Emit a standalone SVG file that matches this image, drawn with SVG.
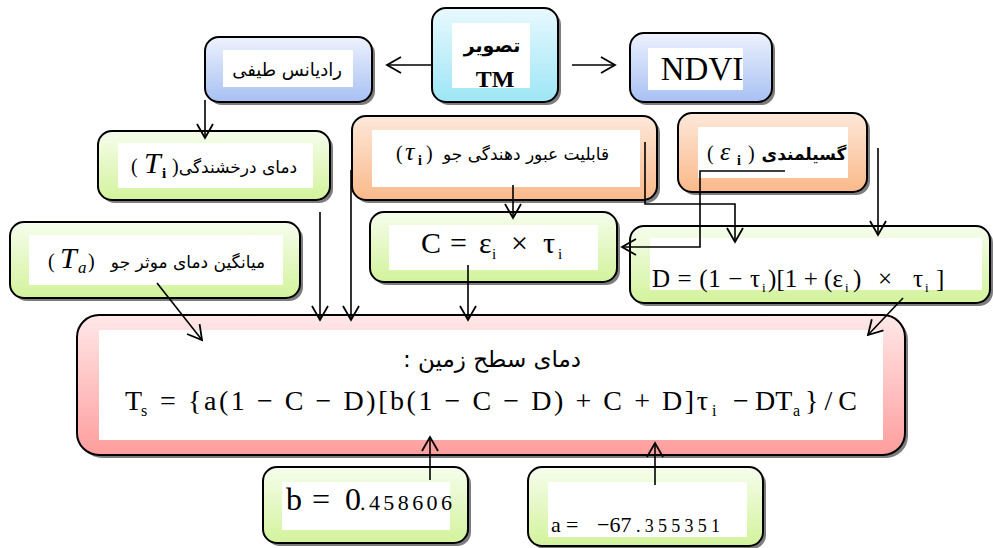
<svg xmlns="http://www.w3.org/2000/svg" width="993" height="548" viewBox="0 0 993 548">
<style>
.box{stroke:#000;stroke-width:2}
.sh{fill:#7d7d7d}
.in{fill:#fff}
.fa{font-family:"DejaVu Sans",sans-serif;fill:#000}
.m{font-family:"Liberation Serif",serif;fill:#000}
.it{font-style:italic}
.conn{fill:none;stroke:#000;stroke-width:1.6}
</style>
<defs>
<linearGradient id="gGreen" x1="0" y1="0" x2="0" y2="1"><stop offset="0" stop-color="#f6fded"/><stop offset="1" stop-color="#d3f39b"/></linearGradient>
<linearGradient id="gOrange" x1="0" y1="0" x2="0" y2="1"><stop offset="0" stop-color="#fde8d9"/><stop offset="1" stop-color="#fab98a"/></linearGradient>
<linearGradient id="gBlue" x1="0" y1="0" x2="0" y2="1"><stop offset="0" stop-color="#edf2fd"/><stop offset="1" stop-color="#a7c0f3"/></linearGradient>
<linearGradient id="gCyan" x1="0" y1="0" x2="0" y2="1"><stop offset="0" stop-color="#e8f9fe"/><stop offset="1" stop-color="#9de6f6"/></linearGradient>
<linearGradient id="gPink" x1="0" y1="0" x2="0" y2="1"><stop offset="0" stop-color="#ffe8e8"/><stop offset="1" stop-color="#ff9d9d"/></linearGradient>
<marker id="arr" markerUnits="userSpaceOnUse" markerWidth="18" markerHeight="20" refX="16" refY="10" orient="auto">
<path d="M2,2 L16,10 L2,18" fill="none" stroke="#000" stroke-width="1.8"/>
</marker>
</defs>

<g id="node-tm">
<rect class="sh" x="435" y="11" width="126" height="94" rx="14"/>
<rect class="box" x="432" y="8" width="126" height="94" rx="14" fill="url(#gCyan)"/>
<rect class="in" x="452" y="23" width="78" height="65"/>
<text class="fa" x="492" y="52" font-size="19" font-weight="bold" text-anchor="middle" direction="rtl">تصویر</text>
<text class="m" x="495" y="87" font-size="24" font-weight="bold" text-anchor="middle">TM</text>
</g>

<g id="node-radiance">
<rect class="sh" x="208" y="40" width="167" height="65" rx="14"/>
<rect class="box" x="205" y="37" width="167" height="65" rx="14" fill="url(#gBlue)"/>
<rect class="in" x="223" y="50" width="130" height="37"/>
<text class="fa" x="287" y="76" font-size="18" text-anchor="middle" direction="rtl">رادیانس طیفی</text>
</g>

<g id="node-ndvi">
<rect class="sh" x="633" y="36" width="142" height="69" rx="14"/>
<rect class="box" x="630" y="33" width="142" height="69" rx="14" fill="url(#gBlue)"/>
<rect class="in" x="648" y="48" width="95" height="42"/>
<text class="m" x="702" y="80" font-size="33" text-anchor="middle">NDVI</text>
</g>

<g id="node-ti">
<rect class="sh" x="101" y="134" width="232" height="69" rx="14"/>
<rect class="box" x="98" y="131" width="232" height="69" rx="14" fill="url(#gGreen)"/>
<rect class="in" x="118" y="143" width="195" height="45"/>
<text class="fa" x="238" y="173" font-size="17" text-anchor="middle" direction="rtl">دمای درخشندگی</text>
<text class="m" x="131" y="173" font-size="20">(</text>
<text class="m it" x="144" y="173" font-size="30">T</text>
<text class="m" x="162" y="178" font-size="15" font-weight="bold" fill="#1a2a6a">i</text>
<text class="m" x="172" y="173" font-size="20">)</text>
</g>

<g id="node-tau">
<rect class="sh" x="355" y="119" width="305" height="84" rx="14"/>
<rect class="box" x="352" y="116" width="305" height="84" rx="14" fill="url(#gOrange)"/>
<rect class="in" x="372" y="130" width="268" height="57"/>
<text class="fa" x="526" y="160" font-size="17" text-anchor="middle" direction="rtl">قابلیت عبور دهندگی جو</text>
<text class="m" x="396" y="160" font-size="20">(</text>
<text class="m it" x="405" y="160" font-size="26">τ</text>
<text class="m" x="418" y="165" font-size="14" font-weight="bold" fill="#1a2a6a">i</text>
<text class="m" x="426" y="160" font-size="20">)</text>
</g>

<g id="node-eps">
<rect class="sh" x="681" y="116" width="189" height="79" rx="14"/>
<rect class="box" x="678" y="113" width="189" height="79" rx="14" fill="url(#gOrange)"/>
<rect class="in" x="698" y="127" width="150" height="51"/>
<text class="fa" x="804" y="160" font-size="17" font-weight="bold" text-anchor="middle" direction="rtl">گسیلمندی</text>
<text class="m" x="707" y="160" font-size="20">(</text>
<text class="m it" x="720" y="160" font-size="26">ε</text>
<text class="m" x="737" y="165" font-size="14" font-weight="bold" fill="#1a2a6a">i</text>
<text class="m" x="748" y="160" font-size="20">)</text>
</g>

<g id="node-ta">
<rect class="sh" x="13" y="225" width="290" height="76" rx="14"/>
<rect class="box" x="10" y="222" width="290" height="76" rx="14" fill="url(#gGreen)"/>
<rect class="in" x="29" y="235" width="254" height="50"/>
<text class="fa" x="188" y="268" font-size="17" text-anchor="middle" direction="rtl">میانگین دمای موثر جو</text>
<text class="m" x="48" y="268" font-size="20">(</text>
<text class="m it" x="60" y="268" font-size="30">T</text>
<text class="m it" x="78" y="273" font-size="17" fill="#1a2a6a">a</text>
<text class="m" x="88" y="268" font-size="20">)</text>
</g>

<g id="node-c">
<rect class="sh" x="373" y="215" width="247" height="70" rx="14"/>
<rect class="box" x="370" y="212" width="247" height="70" rx="14" fill="url(#gGreen)"/>
<rect class="in" x="389" y="225" width="209" height="45"/>
<text class="m" x="421" y="253" font-size="30">C</text>
<text class="m" x="450" y="253" font-size="30">=</text>
<text class="m" x="479" y="253" font-size="30">ε</text>
<text class="m" x="492" y="259" font-size="15">i</text>
<text class="m" x="511" y="253" font-size="30">×</text>
<text class="m" x="543" y="253" font-size="30">τ</text>
<text class="m" x="558" y="259" font-size="15">i</text>
</g>

<g id="node-d">
<rect class="sh" x="633" y="229" width="360" height="77" rx="14"/>
<rect class="box" x="630" y="226" width="360" height="77" rx="14" fill="url(#gGreen)"/>
<rect class="in" x="650" y="238" width="332" height="52"/>
<text class="m" x="652" y="287" font-size="25" textLength="108" lengthAdjust="spacing">D = (1 − τ</text>
<text class="m" x="762" y="292" font-size="13">i</text>
<text class="m" x="768" y="287" font-size="25" textLength="75" lengthAdjust="spacing">)[1 + (ε</text>
<text class="m" x="845" y="292" font-size="13">i</text>
<text class="m" x="853" y="287" font-size="25">)</text>
<text class="m" x="878" y="287" font-size="25">×</text>
<text class="m" x="913" y="287" font-size="25">τ</text>
<text class="m" x="925" y="292" font-size="13">i</text>
<text class="m" x="936" y="287" font-size="25">]</text>
</g>

<g id="node-ts">
<rect class="sh" x="80" y="318" width="828" height="140" rx="22"/>
<rect class="box" x="77" y="315" width="828" height="140" rx="22" fill="url(#gPink)"/>
<rect class="in" x="99" y="330" width="784" height="110"/>
<text class="fa" x="492" y="367" font-size="23" text-anchor="middle" direction="rtl">دمای سطح زمین :</text>
<text class="m" x="125" y="410" font-size="28">T</text>
<text class="m" x="141" y="416" font-size="16">s</text>
<text class="m" x="160" y="410" font-size="28" textLength="548" lengthAdjust="spacing">= {a(1 − C − D)[b(1 − C − D) + C + D]τ</text>
<text class="m" x="712" y="416" font-size="16">i</text>
<text class="m" x="733" y="410" font-size="28">−</text>
<text class="m" x="755" y="410" font-size="28">DT</text>
<text class="m" x="793" y="416" font-size="16">a</text>
<text class="m" x="805" y="410" font-size="28" textLength="52" lengthAdjust="spacing">}/C</text>
</g>

<g id="node-b">
<rect class="sh" x="266" y="470" width="205" height="76" rx="14"/>
<rect class="box" x="263" y="467" width="205" height="76" rx="14" fill="url(#gGreen)"/>
<rect class="in" x="282" y="482" width="168" height="48"/>
<text class="m" x="286" y="510" font-size="32">b</text>
<text class="m" x="312" y="510" font-size="32">=</text>
<text class="m" x="345" y="510" font-size="32">0</text>
<text class="m" x="360" y="510" font-size="22" textLength="92" lengthAdjust="spacing">.458606</text>
</g>

<g id="node-a">
<rect class="sh" x="531" y="470" width="235" height="79" rx="14"/>
<rect class="box" x="528" y="467" width="235" height="79" rx="14" fill="url(#gGreen)"/>
<rect class="in" x="548" y="482" width="199" height="55"/>
<text class="m" x="551" y="532" font-size="22">a</text>
<text class="m" x="566" y="532" font-size="22">=</text>
<text class="m" x="597" y="532" font-size="22">−67</text>
<text class="m" x="636" y="532" font-size="18" textLength="84" lengthAdjust="spacing">.355351</text>
</g>

<g id="connectors">
<path class="conn" d="M432,65 H387" marker-end="url(#arr)"/>
<path class="conn" d="M572,65 H615" marker-end="url(#arr)"/>
<path class="conn" d="M205,100 V138" marker-end="url(#arr)"/>
<path class="conn" d="M320,212 V320" marker-end="url(#arr)"/>
<path class="conn" d="M351,170 V320" marker-end="url(#arr)"/>
<path class="conn" d="M513,185 V218" marker-end="url(#arr)"/>
<path class="conn" d="M645,142 V204 H735 V242" marker-end="url(#arr)"/>
<path class="conn" d="M785,171 H700 V247 H622" marker-end="url(#arr)"/>
<path class="conn" d="M878,148 V235" marker-end="url(#arr)"/>
<path class="conn" d="M468,265 V320" marker-end="url(#arr)"/>
<path class="conn" d="M157,283 L202,340" marker-end="url(#arr)"/>
<path class="conn" d="M903,298 L868,335" marker-end="url(#arr)"/>
<path class="conn" d="M430,480 V437" marker-end="url(#arr)"/>
<path class="conn" d="M655,485 V443" marker-end="url(#arr)"/>
</g>
</svg>
